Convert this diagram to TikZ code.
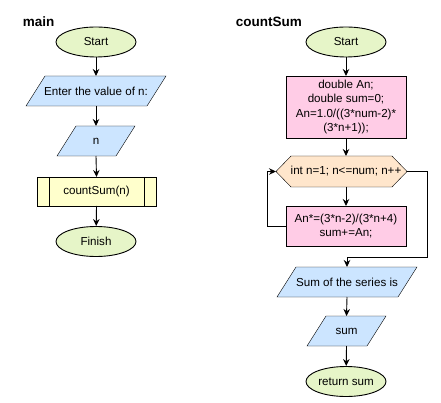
\documentclass[tikz,border=0pt]{standalone}
\usepackage{fontspec}
\setmainfont{Liberation Sans}
\usetikzlibrary{shapes.geometric,arrows.meta,backgrounds}
\definecolor{cgreen}{HTML}{E6F5C8}
\definecolor{cblue}{HTML}{CCE5FF}
\definecolor{cyellow}{HTML}{FFFFCC}
\definecolor{cpink}{HTML}{FFCCE6}
\definecolor{cpeach}{HTML}{FFE6CC}
\begin{document}
\begin{tikzpicture}[x=1pt,y=-1pt,
  font=\fontsize{11.6}{14.5}\selectfont,
  line width=0.9pt,
  arr/.style={-{Stealth[length=7pt,width=6.5pt]}},
  term/.style={ellipse,draw,fill=cgreen,minimum width=80pt,minimum height=30pt,inner sep=0pt},
  geom/.style={rectangle,inner sep=0pt,outer sep=0pt},
  proc/.style={rectangle,draw,fill=cpink,inner sep=0pt,outer sep=0pt,align=center},
  titletext/.style={anchor=west,font=\fontsize{13.5}{16}\selectfont\bfseries}
]
\useasboundingbox (0,0) rectangle (441,403);

% main
\node[titletext] (tmain) at (19,22) {main};
\node[term] (s1) at (96,42) {Start};
\node[geom,minimum width=140pt,minimum height=30pt] (in1) at (96,91) {Enter the value of n:};
\node[geom,minimum width=78pt,minimum height=30pt] (in2) at (96,141) {n};
\node[rectangle,draw,fill=cyellow,inner sep=0pt,outer sep=0pt,minimum width=119pt,minimum height=29pt] (call) at (96.5,191.5) {countSum(n)};
\draw ([xshift=12pt]call.north west) -- ([xshift=12pt]call.south west);
\draw ([xshift=-12pt]call.north east) -- ([xshift=-12pt]call.south east);
\node[term] (f1) at (96,241.5) {Finish};

\draw[arr] (s1) -- (in1.north);
\draw[arr] (in1.south) -- (in2.north);
\draw[arr] (in2.south) -- (call.north);
\draw[arr] (call.south) -- (f1);

% countSum
\node[titletext] (tcs) at (232,22) {countSum};
\node[term] (s2) at (346,42) {Start};
\node[proc,minimum width=120pt,minimum height=62pt] (init) at (346,107) {double An;\\double sum=0;\\An=1.0/((3*num-2)*\\(3*n+1));};
\node[geom,minimum width=131pt,minimum height=31pt] (loop) at (341.5,171.5) {};
\node[geom] (looptext) at (346,171.5) {int n=1; n<=num; n++};
\node[proc,minimum width=120pt,minimum height=40pt] (body) at (346,226) {An*=(3*n-2)/(3*n+4)\\sum+=An;};
\node[geom,minimum width=140pt,minimum height=30pt] (out1) at (347,282) {Sum of the series is};
\node[geom,minimum width=79pt,minimum height=30pt] (out2) at (346.5,331) {sum};
\node[term] (ret) at (346,381.5) {return sum};

\begin{scope}[on background layer]
  \foreach \n in {in1,in2,out1,out2}
    \filldraw[fill=cblue] (\n.south west) -- ([xshift=19pt]\n.north west) -- (\n.north east) -- ([xshift=-19pt]\n.south east) -- cycle;
  \filldraw[fill=cpeach] (loop.west) -- ([xshift=15pt]loop.north west) -- ([xshift=-15pt]loop.north east) -- (loop.east) -- ([xshift=-15pt]loop.south east) -- ([xshift=15pt]loop.south west) -- cycle;
\end{scope}

\draw[arr] (s2) -- (init.north);
\draw[arr] (init.south) -- (init.south |- loop.north);
\draw[arr] (body.north |- loop.south) -- (body.north);
\draw[arr] (body.west) -- ++(-19pt,0pt) |- (loop.west);
\draw[arr] (loop.east) -- ++(20pt,0pt) |- ([yshift=10pt]out1.north) -- (out1.north);
\draw[arr] (out1.south) -- (out2.north);
\draw[arr] (out2.south) -- (ret);
\end{tikzpicture}
\end{document}
